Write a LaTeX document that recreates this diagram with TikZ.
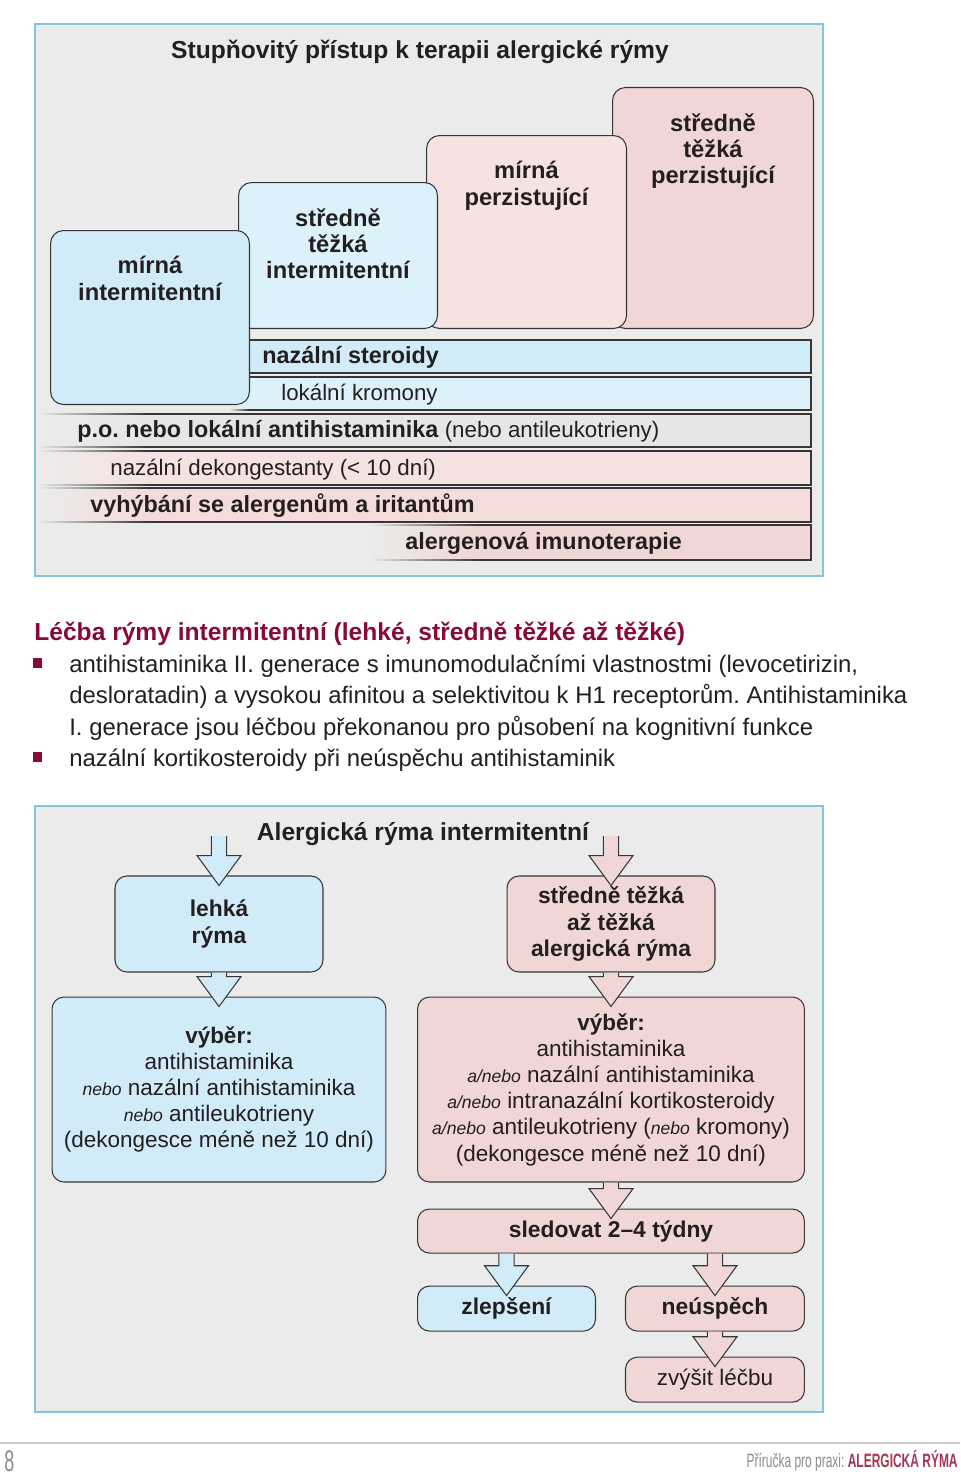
\documentclass[tikz,border=0pt]{standalone}
\usepackage{fontspec}
\setmainfont{Liberation Sans}
\usetikzlibrary{positioning,calc}
\definecolor{PanelGray}{RGB}{235,235,235}
\definecolor{PanelEdge}{RGB}{128,196,222}
\definecolor{MildBlue}{RGB}{209,236,248}
\definecolor{PaleBlue}{RGB}{221,241,250}
\definecolor{PalePink}{RGB}{245,226,225}
\definecolor{RosePink}{RGB}{243,220,218}
\definecolor{MildPink}{RGB}{240,214,212}
\definecolor{BarGray}{RGB}{230,230,230}
\definecolor{EdgeDark}{RGB}{55,55,55}
\definecolor{InkDark}{RGB}{35,31,32}
\definecolor{HeadRed}{RGB}{135,10,55}
\definecolor{FootGray}{RGB}{140,140,140}
\definecolor{FootLine}{RGB}{205,205,205}
\definecolor{FootRed}{RGB}{165,55,85}
\frenchspacing

\newcommand{\orword}[1]{{\fontsize{10}{10}\selectfont\itshape #1}}
\newcommand{\lighttext}[1]{{\fontsize{12.7}{15}\selectfont\mdseries #1}}
\newcommand{\flowarrow}[3]{%
  \filldraw[arrowline, fill=#3] let \p1=(#1), \p2=(#2) in
    (\x2-4.3pt,\y1) -- (\x2-4.3pt,\y2+11.3pt) -- (\x2-12.5pt,\y2+11.3pt) -- (\x2,\y2-5.7pt)
    -- (\x2+12.5pt,\y2+11.3pt) -- (\x2+4.3pt,\y2+11.3pt) -- (\x2+4.3pt,\y1);}

\begin{document}
\begin{tikzpicture}[x=0.02cm, y=-0.02cm, node distance=0.5cm,
  every node/.style={text=InkDark},
  panel/.style={fill=PanelGray, draw=PanelEdge, line width=0.8pt},
  stepbox/.style={draw=EdgeDark, line width=0.6pt, rounded corners=0.26cm, anchor=north west, inner sep=0pt},
  steptext/.style={inner sep=0pt, align=center, font=\fontsize{13.5}{15}\selectfont\bfseries},
  barline/.style={draw=EdgeDark, line width=0.8pt},
  bartext/.style={anchor=west, inner sep=0pt, text height=0.9em, text depth=0.08em, font=\fontsize{13.3}{15}\selectfont\bfseries},
  barplain/.style={bartext, font=\fontsize{12.7}{15}\selectfont},
  titletext/.style={inner sep=0pt, text height=0.94em, text depth=0.08em, font=\fontsize{14}{16}\selectfont\bfseries},
  bodytext/.style={anchor=base west, inner sep=0pt, font=\fontsize{13.6}{17.6}\selectfont},
  bullet/.style={fill=HeadRed, minimum size=0.19cm, inner sep=0pt},
  flowbox/.style={draw=EdgeDark, line width=0.6pt, rounded corners=0.24cm, align=center, inner sep=0pt, font=\fontsize{12.8}{14.9}\selectfont},
  flowbold/.style={flowbox, font=\fontsize{13}{15}\selectfont\bfseries},
  arrowline/.style={draw=EdgeDark, line width=0.6pt, line join=miter}]

\useasboundingbox (0,0) rectangle (960,1477);
\fill[white] (0,0) rectangle (960,1477);

\draw[panel] (35,24) rectangle (823,576);
\node[titletext] (title) at (420,51) {Stupňovitý přístup k terapii alergické rýmy};

\foreach \ya/\yb/\xa/\fl/\col in {340/373/229/20/MildBlue, 377/410/229/20/PaleBlue, 414/447/38/110/BarGray,
  451/485/38/110/PalePink, 488/522/38/110/RosePink, 525/560/370/110/MildPink}{
  \shade[left color=PanelGray, right color=\col] (\xa,\ya) rectangle (\xa+\fl,\yb);
  \fill[fill=\col] (\xa+\fl,\ya) rectangle (811,\yb);
  \shade[left color=PanelGray, right color=EdgeDark] (\xa,\ya-0.7) rectangle (\xa+\fl,\ya+0.7);
  \shade[left color=PanelGray, right color=EdgeDark] (\xa,\yb-0.7) rectangle (\xa+\fl,\yb+0.7);
  \draw[barline] (\xa+\fl,\ya) -- (811,\ya) -- (811,\yb) -- (\xa+\fl,\yb);
}

\node[stepbox, fill=MildPink, minimum width=4.02cm, minimum height=4.82cm] (m4) at (612,87) {};
\node[stepbox, fill=PalePink, minimum width=4.0cm, minimum height=3.86cm] (m3) at (426,135) {};
\node[stepbox, fill=PaleBlue, minimum width=3.98cm, minimum height=2.92cm] (m2) at (238,182) {};
\node[stepbox, fill=MildBlue, minimum width=3.98cm, minimum height=3.48cm] (m1) at (50,230) {};
\node[steptext, below=0.52cm of m1.north] (m1t) {mírná\\intermitentní};
\node[steptext, below=0.52cm of m2.north] (m2t) {středně\\těžká\\intermitentní};
\node[steptext, below=0.52cm of m3.north] (m3t) {mírná\\perzistující};
\node[steptext, below=0.52cm of m4.north] (m4t) {středně\\těžká\\perzistující};

\node[bartext] (b1) at (262,356.5) {nazální steroidy};
\node[barplain] (b2) at (281,393.5) {lokální kromony};
\node[bartext] (b3) at (77,430.5) {p.o. nebo lokální antihistaminika \lighttext{(nebo antileukotrieny)}};
\node[barplain] (b4) at (110,468) {nazální dekongestanty (< 10 dní)};
\node[bartext] (b5) at (90,505) {vyhýbání se alergenům a iritantům};
\node[bartext] (b6) at (405,542.5) {alergenová imunoterapie};

\node[titletext, anchor=base west, text=HeadRed] (lead) at (34,640) {Léčba rýmy intermitentní (lehké, středně těžké až těžké)};
\node[bullet] (p1) at (37.5,663) {};
\node[bodytext] (l1) at (69,672) {antihistaminika II. generace s imunomodulačními vlastnostmi (levocetirizin,};
\node[bodytext] (l2) at (69,703) {desloratadin) a vysokou afinitou a selektivitou k H1 receptorům. Antihistaminika};
\node[bodytext] (l3) at (69,735) {I. generace jsou léčbou překonanou pro působení na kognitivní funkce};
\node[bullet] (p2) at (37.5,757) {};
\node[bodytext] (l4) at (69,766) {nazální kortikosteroidy při neúspěchu antihistaminik};

\draw[panel] (35,806) rectangle (823,1412);
\node[titletext] (flowtitle) at (423,833) {Alergická rýma intermitentní};
\coordinate (inflow) at (423,836);
\node[flowbold, fill=MildBlue, minimum width=4.16cm, minimum height=1.92cm] (lehka) at (219,924) {lehká\\rýma};
\node[flowbold, fill=MildPink, minimum width=4.16cm, minimum height=1.92cm] (tezka) at (611,924) {středně těžká\\až těžká\\alergická rýma};
\node[flowbox, fill=MildBlue, minimum width=6.68cm, minimum height=3.7cm, below=0.48cm of lehka] (vyberL)
  {\textbf{výběr:}\\antihistaminika\\\orword{nebo} nazální antihistaminika\\\orword{nebo} antileukotrieny\\(dekongesce méně než 10 dní)};
\node[flowbox, fill=MildPink, minimum width=7.74cm, minimum height=3.7cm, below=0.48cm of tezka] (vyberR)
  {\textbf{výběr:}\\antihistaminika\\\orword{a/nebo} nazální antihistaminika\\\orword{a/nebo} intranazální kortikosteroidy\\\orword{a/nebo} antileukotrieny (\orword{nebo} kromony)\\(dekongesce méně než 10 dní)};
\node[flowbold, fill=MildPink, minimum width=7.74cm, minimum height=0.88cm, below=0.52cm of vyberR] (sled) {sledovat 2–4 týdny};
\node[flowbold, fill=MildBlue, minimum width=3.56cm, minimum height=0.9cm, below right=0.64cm and 0cm of sled.south west] (zlep) {zlepšení};
\node[flowbold, fill=MildPink, minimum width=3.58cm, minimum height=0.9cm, below left=0.64cm and 0cm of sled.south east] (neusp) {neúspěch};
\node[flowbox, fill=MildPink, minimum width=3.58cm, minimum height=0.9cm, below=0.5cm of neusp] (zvys) {zvýšit léčbu};

\flowarrow{inflow}{lehka.north}{MildBlue}
\flowarrow{inflow}{tezka.north}{MildPink}
\flowarrow{lehka.south}{vyberL.north}{MildBlue}
\flowarrow{tezka.south}{vyberR.north}{MildPink}
\flowarrow{vyberR.south}{sled.north}{MildPink}
\flowarrow{sled.south}{zlep.north}{MildBlue}
\flowarrow{sled.south}{neusp.north}{MildPink}
\flowarrow{neusp.south}{zvys.north}{MildPink}

\draw[draw=FootLine, line width=0.9pt] (0,1443) -- (960,1443);
\node[anchor=west, inner sep=0pt, text=FootGray, font=\fontsize{17}{18}\selectfont] (pageno) at (4,1461) {\scalebox{0.6}[1]{8}};
\node[anchor=east, inner sep=0pt, text=FootGray, font=\fontsize{11}{12}\selectfont] (runhead) at (958,1461)
  {\scalebox{0.62}[1]{Příručka pro praxi: \textcolor{FootRed}{\bfseries ALERGICKÁ RÝMA}}};
\end{tikzpicture}
\end{document}
